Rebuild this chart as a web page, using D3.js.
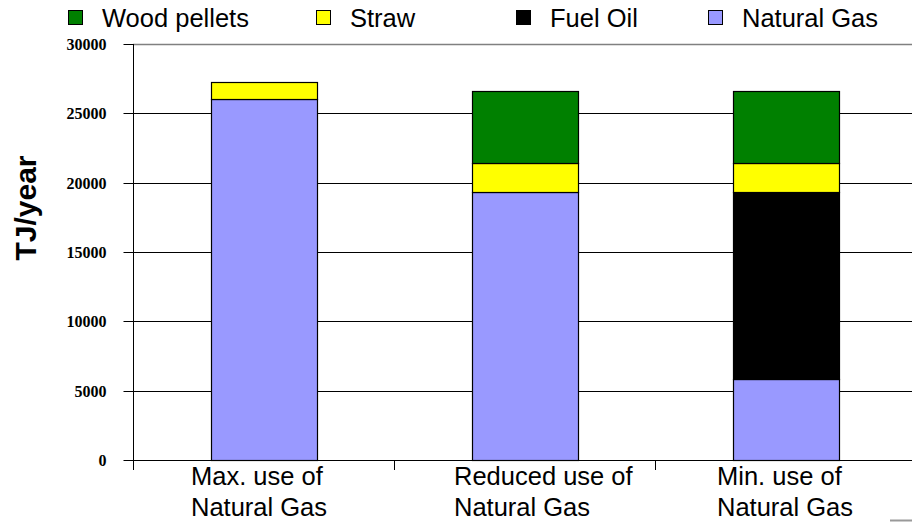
<!DOCTYPE html>
<html>
<head>
<meta charset="utf-8">
<script src="https://cdn.jsdelivr.net/npm/d3@7"></script>
<style>
  html, body { margin: 0; padding: 0; background: #fff; }
  svg { display: block; }
</style>
</head>
<body>
<svg id="chart" width="912" height="522"></svg>
<script>
// Scenario labels (each split over two lines)
const categories = ["Max. use of Natural Gas", "Reduced use of Natural Gas", "Min. use of Natural Gas"];
const categoryLines = [["Max. use of", "Natural Gas"], ["Reduced use of", "Natural Gas"], ["Min. use of", "Natural Gas"]];

// Fuel series, stacked bottom to top (TJ/year)
const seriesNames = ["Natural Gas", "Fuel Oil", "Straw", "Wood pellets"];
const naturalGas  = [26050, 19330, 5820];
const fuelOil     = [0, 0, 13510];
const straw       = [1200, 2110, 2110];
const woodPellets = [0, 5190, 5190];

const seriesColors = ["#9999FF", "#000000", "#FFFF00", "#008000"];
const legendOrder  = ["Wood pellets", "Straw", "Fuel Oil", "Natural Gas"];
const yTicks = [0, 5000, 10000, 15000, 20000, 25000, 30000];
const yTitle = "TJ/year";

const svg = d3.select("#chart");
const plotLeft = 133, plotRight = 916, plotTop = 44, plotBottom = 460;

const x = d3.scaleBand().domain(categories).range([plotLeft, plotRight]).paddingInner(0).paddingOuter(0);
const y = d3.scaleLinear().domain([0, 30000]).range([plotBottom, plotTop]);
const color = d3.scaleOrdinal().domain(seriesNames).range(seriesColors);
const yPix = v => Math.round(y(v)) + 0.5;

// Horizontal gridlines
svg.append("g").selectAll("line").data(yTicks.filter(t => t > 0)).join("line")
  .attr("x1", plotLeft).attr("x2", 912)
  .attr("y1", d => yPix(d)).attr("y2", d => yPix(d))
  .attr("stroke", d => d === 30000 ? "#808080" : "#000")
  .attr("stroke-width", d => d === 30000 ? 1.5 : 1);

// Stacked bars
const rows = categories.map((c, i) => ({
  cat: c,
  "Natural Gas": naturalGas[i], "Fuel Oil": fuelOil[i], "Straw": straw[i], "Wood pellets": woodPellets[i]
}));
const stack = d3.stack().keys(seriesNames)(rows);
const barW = x.bandwidth() * 0.405;

svg.append("g").selectAll("g").data(stack).join("g")
  .attr("fill", d => color(d.key))
  .selectAll("rect").data(d => d.filter(p => p[1] - p[0] > 0)).join("rect")
  .attr("x", d => Math.round(x(d.data.cat) + x.bandwidth() / 2 - barW / 2) + 0.5)
  .attr("width", Math.round(barW))
  .attr("y", d => yPix(d[1]))
  .attr("height", d => yPix(d[0]) - yPix(d[1]))
  .attr("stroke", "#000").attr("stroke-width", 1.2);

// Y axis
const yAxis = d3.axisLeft(y).tickValues(yTicks).tickSize(10).tickPadding(17).tickFormat(d3.format("d"));
const gy = svg.append("g").attr("transform", `translate(${plotLeft + 0.5},0)`).call(yAxis);
gy.select(".domain").remove();
gy.selectAll(".tick").attr("transform", d => `translate(0,${yPix(d)})`);
gy.selectAll(".tick line").attr("stroke", "#000");
gy.selectAll(".tick text")
  .attr("font-family", "'Liberation Serif', 'Times New Roman', serif")
  .attr("font-weight", "bold").attr("font-size", 16).attr("fill", "#000");
svg.append("line").attr("x1", plotLeft + 0.5).attr("x2", plotLeft + 0.5).attr("y1", plotTop).attr("y2", plotBottom + 10)
  .attr("stroke", "#000");

// X axis line and category separator ticks
svg.append("line").attr("x1", plotLeft).attr("x2", 912).attr("y1", yPix(0)).attr("y2", yPix(0))
  .attr("stroke", "#000");
svg.append("g").selectAll("line").data(categories.slice(1)).join("line")
  .attr("x1", d => Math.round(x(d)) + 0.5).attr("x2", d => Math.round(x(d)) + 0.5)
  .attr("y1", plotBottom).attr("y2", plotBottom + 10).attr("stroke", "#000");

// Category labels: left-aligned two-line blocks within each band
const lab = svg.append("g").attr("font-family", "'Liberation Sans', Arial, sans-serif")
  .attr("font-size", 25.5).attr("fill", "#000");
categories.forEach((c, i) => {
  const t = lab.append("text").attr("x", x(c) + 58 + i * 2).attr("y", 485);
  categoryLines[i].forEach((line, j) => {
    t.append("tspan").attr("x", x(c) + 58 + i * 2).attr("dy", j === 0 ? 0 : 31).text(line);
  });
});

// Y axis title
svg.append("text")
  .attr("transform", "translate(36,208) rotate(-90)")
  .attr("text-anchor", "middle")
  .attr("font-family", "'Liberation Sans', Arial, sans-serif")
  .attr("font-weight", "bold").attr("font-size", 30).attr("fill", "#000")
  .text(yTitle);

// Legend
const legendX = [68, 316, 516, 708];
const leg = svg.append("g").attr("font-family", "'Liberation Sans', Arial, sans-serif")
  .attr("font-size", 25.5).attr("fill", "#000");
legendOrder.forEach((name, i) => {
  leg.append("rect").attr("x", legendX[i] + 0.5).attr("y", 10.5).attr("width", 14).attr("height", 14)
    .attr("fill", color(name)).attr("stroke", "#000").attr("stroke-width", 1);
  leg.append("text").attr("x", legendX[i] + 34).attr("y", 27).text(name);
});

// Small frame remnant at the lower right corner
svg.append("line").attr("x1", 890).attr("x2", 912).attr("y1", 520.5).attr("y2", 520.5)
  .attr("stroke", "#999").attr("stroke-width", 2);
</script>
</body>
</html>
